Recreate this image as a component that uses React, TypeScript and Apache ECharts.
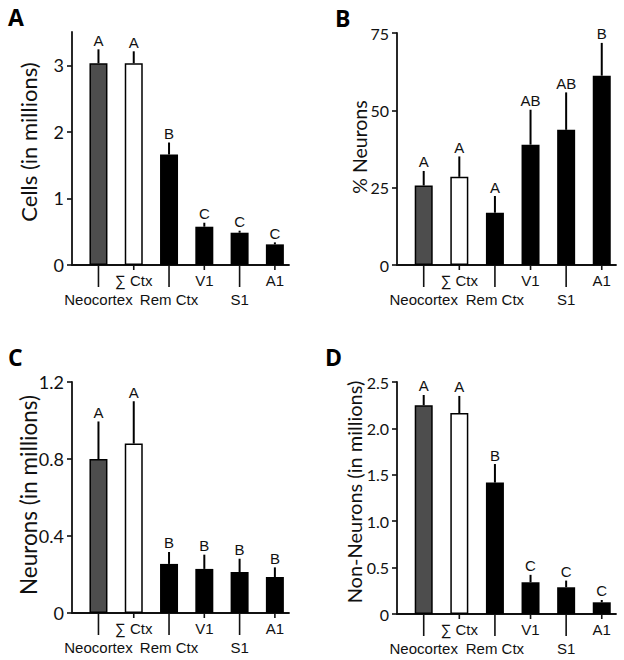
import React, { useEffect, useRef } from 'react';
import * as echarts from 'echarts';

const categories = ['Neocortex', '∑ Ctx', 'Rem Ctx', 'V1', 'S1', 'A1'];

const cellsMean = [3.03, 3.03, 1.66, 0.575, 0.485, 0.31];
const cellsSem = [0.21, 0.18, 0.18, 0.06, 0.03, 0.03];
const cellsLetters = ['A', 'A', 'B', 'C', 'C', 'C'];
const cellsTicks = [0, 1, 2, 3];

const pctNeuronsMean = [25.7, 28.5, 16.9, 38.9, 43.7, 61.2];
const pctNeuronsSem = [4.7, 6.6, 5.4, 11.3, 12.1, 10.6];
const pctNeuronsLetters = ['A', 'A', 'A', 'AB', 'AB', 'B'];
const pctNeuronsTicks = [0, 25, 50, 75];

const neuronsMean = [0.8, 0.88, 0.255, 0.229, 0.213, 0.187];
const neuronsSem = [0.195, 0.22, 0.062, 0.074, 0.069, 0.05];
const neuronsLetters = ['A', 'A', 'B', 'B', 'B', 'B'];
const neuronsTicks = [0, 0.4, 0.8, 1.2];

const nonNeuronsMean = [2.25, 2.165, 1.416, 0.342, 0.288, 0.126];
const nonNeuronsSem = [0.11, 0.185, 0.2, 0.08, 0.072, 0.025];
const nonNeuronsLetters = ['A', 'A', 'B', 'C', 'C', 'C'];
const nonNeuronsTicks = [0, 0.5, 1.0, 1.5, 2.0, 2.5];

const barFill = ['#4d4d4d', '#ffffff', '#000000', '#000000', '#000000', '#000000'];

const INK = '#111111';
const SANS = 'Liberation Sans, Arial, sans-serif';
const HUM = 'Lato, Open Sans, sans-serif';

type Panel = {
  letter: string;
  title: string;
  mean: number[];
  sem: number[];
  letters: string[];
  ticks: number[];
  max: number;
  fmt: (v: number) => string;
  grid: { left: number; top: number; width: number; height: number };
  titlePos: [number, number];
  titleSize: number;
  tickSize: number;
  letterPos: [number, number];
};

const panels: Panel[] = [
  {
    letter: 'A', title: 'Cells (in millions)', mean: cellsMean, sem: cellsSem, letters: cellsLetters,
    ticks: cellsTicks, max: 3.5, fmt: (v) => String(v),
    grid: { left: 72, top: 32, width: 217, height: 233 },
    titlePos: [28, 142], titleSize: 22, tickSize: 18, letterPos: [8, 17],
  },
  {
    letter: 'B', title: '% Neurons', mean: pctNeuronsMean, sem: pctNeuronsSem, letters: pctNeuronsLetters,
    ticks: pctNeuronsTicks, max: 75, fmt: (v) => String(v),
    grid: { left: 397, top: 33, width: 219, height: 232 },
    titlePos: [359, 147], titleSize: 19.5, tickSize: 16, letterPos: [335, 18],
  },
  {
    letter: 'C', title: 'Neurons (in millions)', mean: neuronsMean, sem: neuronsSem, letters: neuronsLetters,
    ticks: neuronsTicks, max: 1.2, fmt: (v) => (v === 0 ? '0' : v.toFixed(1)),
    grid: { left: 72, top: 382, width: 217, height: 231 },
    titlePos: [28, 495], titleSize: 22.5, tickSize: 18, letterPos: [8, 357],
  },
  {
    letter: 'D', title: 'Non-Neurons (in millions)', mean: nonNeuronsMean, sem: nonNeuronsSem, letters: nonNeuronsLetters,
    ticks: nonNeuronsTicks, max: 2.5, fmt: (v) => (v === 0 ? '0' : v.toFixed(1)),
    grid: { left: 397, top: 382, width: 219, height: 232 },
    titlePos: [354, 492], titleSize: 20, tickSize: 16, letterPos: [325, 357],
  },
];

function buildOption() {
  const grid: any[] = [];
  const xAxis: any[] = [];
  const yAxis: any[] = [];
  const series: any[] = [];
  const graphic: any[] = [];

  panels.forEach((p, i) => {
    grid.push({ ...p.grid, containLabel: false });
    xAxis.push({
      gridIndex: i,
      type: 'value',
      min: -0.75,
      max: 5.4,
      axisLine: { show: true, onZero: false, lineStyle: { color: INK, width: 1.8 } },
      axisTick: { show: false },
      axisLabel: { show: false },
      splitLine: { show: false },
    });
    yAxis.push({
      gridIndex: i,
      type: 'value',
      min: 0,
      max: p.max,
      axisLine: { show: true, onZero: false, lineStyle: { color: INK, width: 1.8 } },
      axisTick: { show: true, length: 5, customValues: p.ticks, lineStyle: { color: INK, width: 1.6 } },
      axisLabel: {
        customValues: p.ticks,
        formatter: (v: number) => p.fmt(v),
        fontSize: p.tickSize,
        fontFamily: HUM,
        color: INK,
        margin: 8,
      },
      splitLine: { show: false },
    });

    series.push({
      type: 'bar',
      xAxisIndex: i,
      yAxisIndex: i,
      barWidth: 18,
      silent: true,
      data: p.mean.map((v, j) => ({
        value: [j, v],
        itemStyle: { color: barFill[j], borderColor: '#000', borderWidth: j < 2 ? 1.5 : 0 },
      })),
    });

    series.push({
      type: 'custom',
      xAxisIndex: i,
      yAxisIndex: i,
      silent: true,
      clip: false,
      data: p.mean.map((v, j) => [j, v, p.sem[j]]),
      renderItem: (params: any, api: any) => {
        const x = api.value(0);
        const m = api.value(1);
        const s = api.value(2);
        const p0 = api.coord([x, m]);
        const p1 = api.coord([x, m + s]);
        return {
          type: 'group',
          children: [
            {
              type: 'line',
              shape: { x1: p0[0], y1: p0[1], x2: p1[0], y2: p1[1] },
              style: { stroke: '#000', lineWidth: 2 },
            },
            {
              type: 'text',
              style: {
                text: p.letters[params.dataIndex],
                x: p1[0],
                y: p1[1] - 9,
                align: 'center',
                verticalAlign: 'middle',
                fontSize: 15,
                fontFamily: SANS,
                fill: INK,
              },
            },
          ],
        };
      },
    });

    series.push({
      type: 'custom',
      xAxisIndex: i,
      yAxisIndex: i,
      silent: true,
      clip: false,
      data: categories.map((c, j) => [j, 0]),
      renderItem: (params: any, api: any) => {
        const j = params.dataIndex;
        const pt = api.coord([api.value(0), 0]);
        const long = j % 2 === 0;
        return {
          type: 'group',
          children: [
            {
              type: 'line',
              shape: { x1: pt[0], y1: pt[1], x2: pt[0], y2: pt[1] + (long ? 22 : 5) },
              style: { stroke: INK, lineWidth: 1.6 },
            },
            {
              type: 'text',
              style: {
                text: categories[j],
                x: pt[0],
                y: pt[1] + (long ? 34 : 15),
                align: 'center',
                verticalAlign: 'middle',
                fontSize: 15,
                fontFamily: SANS,
                fill: INK,
              },
            },
          ],
        };
      },
    });

    graphic.push({
      type: 'text',
      x: p.titlePos[0],
      y: p.titlePos[1],
      rotation: Math.PI / 2,
      style: {
        text: p.title,
        fontSize: p.titleSize,
        fontFamily: HUM,
        fill: INK,
        align: 'center',
        verticalAlign: 'middle',
      },
    });

    graphic.push({
      type: 'text',
      x: p.letterPos[0],
      y: p.letterPos[1],
      style: {
        text: p.letter,
        fontSize: 23,
        fontWeight: 'bold',
        fontFamily: 'Open Sans, Liberation Sans, sans-serif',
        fill: '#000',
        verticalAlign: 'middle',
        align: 'left',
      },
    });
  });

  return {
    animation: false,
    backgroundColor: '#ffffff',
    grid,
    xAxis,
    yAxis,
    series,
    graphic,
  };
}

export default function App() {
  const ref = useRef<HTMLDivElement>(null);
  useEffect(() => {
    const chart = echarts.init(ref.current!, null, { renderer: 'svg' });
    chart.setOption(buildOption() as any);
    return () => chart.dispose();
  }, []);
  return (
    <div
      ref={ref}
      style={{ position: 'fixed', left: 0, top: 0, width: 624, height: 660, background: '#fff' }}
    />
  );
}
